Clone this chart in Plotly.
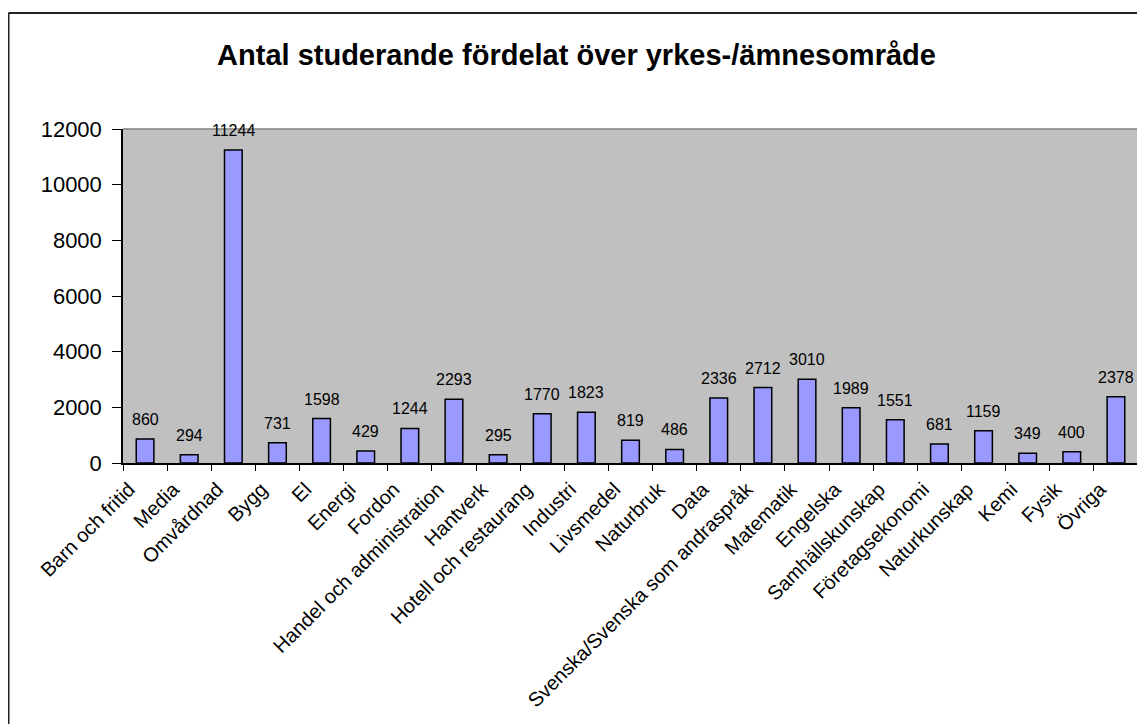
import plotly.graph_objects as go

categories = ["Barn och fritid", "Media", "Omvårdnad", "Bygg", "El", "Energi", "Fordon",
              "Handel och administration", "Hantverk", "Hotell och restaurang", "Industri",
              "Livsmedel", "Naturbruk", "Data", "Svenska/Svenska som andraspråk", "Matematik",
              "Engelska", "Samhällskunskap", "Företagsekonomi", "Naturkunskap", "Kemi",
              "Fysik", "Övriga"]
values = [860, 294, 11244, 731, 1598, 429, 1244, 2293, 295, 1770, 1823, 819, 486, 2336,
          2712, 3010, 1989, 1551, 681, 1159, 349, 400, 2378]
y_ticks = [0, 2000, 4000, 6000, 8000, 10000, 12000]
title_text = "Antal studerande fördelat över yrkes-/ämnesområde"

FONT = "Liberation Sans, Arial, sans-serif"

fig = go.Figure(go.Bar(
    x=categories, y=values,
    marker=dict(color="#9999FF", line=dict(color="#000000", width=1.5)),
    cliponaxis=False,
))

# value labels above bars
for c, v in zip(categories, values):
    fig.add_annotation(x=c, y=v, text=str(v), showarrow=False, xanchor="center",
                       yanchor="bottom", yshift=9,
                       font=dict(family=FONT, size=16, color="#000000"))

# page body has an 8px offset; figure sized to fill the rest of the window
OFF = 8
W, H = 1145 - OFF, 724 - OFF
L, R, T, B = 123 - OFF, 7, 129 - OFF, 261
pw, ph = W - L - R, H - T - B

def px(x):
    return (x - L) / pw

def py(y):
    return (H - B - y) / ph

fig.update_layout(
    width=W, height=H,
    margin=dict(l=L, r=R, t=T, b=B, autoexpand=False),
    paper_bgcolor="#FFFFFF", plot_bgcolor="#C0C0C0",
    bargap=0.6, showlegend=False,
    title=dict(text="<b>" + title_text + "</b>", x=0.5, xanchor="center",
               y=1 - (55 - OFF) / H, yanchor="middle",
               font=dict(family=FONT, size=29, color="#000000")),
    font=dict(family=FONT, color="#000000"),
    xaxis=dict(type="category", tickangle=-45, tickson="boundaries",
               ticks="outside", ticklen=6, tickcolor="#000000", automargin=False,
               ticklabelshift=-16, ticklabelstandoff=5,
               showline=True, linecolor="#000000", linewidth=1.5,
               showgrid=False, tickfont=dict(family=FONT, size=20)),
    yaxis=dict(range=[0, 12000], tickvals=y_ticks, ticktext=[str(v) for v in y_ticks],
               ticks="outside", ticklen=9, ticklabelstandoff=6, automargin=False,
               tickcolor="#000000", showline=True, linecolor="#000000", linewidth=1.5,
               showgrid=False, zeroline=False, tickfont=dict(family=FONT, size=22)),
    shapes=[
        # plot area top/right border
        dict(type="line", xref="paper", yref="paper", x0=0, x1=1, y0=1, y1=1,
             line=dict(color="#808080", width=1.5)),
        dict(type="line", xref="paper", yref="paper", x0=1, x1=1, y0=0, y1=1,
             line=dict(color="#808080", width=2)),
        # outer chart frame (left and top visible)
        dict(type="line", xref="paper", yref="paper", x0=px(0.5), x1=px(0.5),
             y0=py(13 - OFF), y1=py(H + 5), line=dict(color="#222222", width=2)),
        dict(type="line", xref="paper", yref="paper", x0=px(0.5), x1=px(W + 5),
             y0=py(13 - OFF), y1=py(13 - OFF), line=dict(color="#222222", width=2)),
    ],
)

fig.write_html("out.html")
